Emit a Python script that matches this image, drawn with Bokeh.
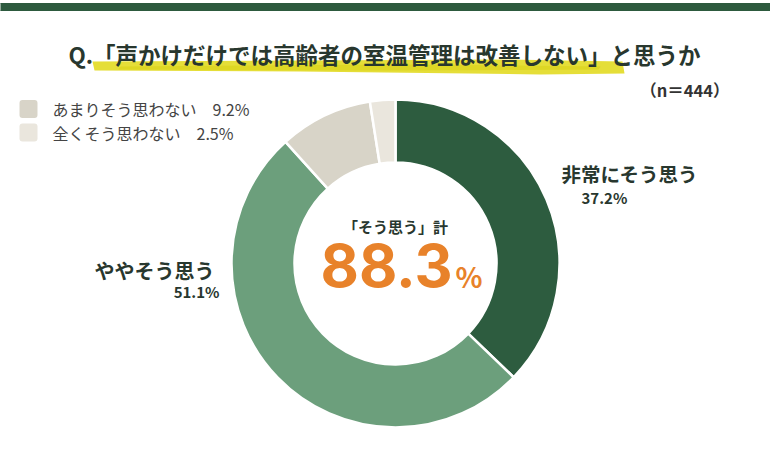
import numpy as np
from bokeh.plotting import figure
from bokeh.models import Range1d
from bokeh.core.properties import value
from bokeh.embed import file_html
from bokeh.resources import INLINE

# data
categories = ['非常にそう思う', 'ややそう思う', 'あまりそう思わない', '全くそう思わない']
shares = [37.2, 51.1, 9.2, 2.5]
colors = ['#2d5c3f', '#6c9f7c', '#d8d4c8', '#eae6dd']
total_agree = '88.3'
n_label = '（n＝444）'
title = 'Q.「声かけだけでは高齢者の室温管理は改善しない」と思うか'
center_label = '「そう思う」計'

FONT = value("Noto Sans CJK JP")
DARK = '#28372e'

# the plot area uses screen-like units: x = pixel, y = 441 - pixel
p = figure(width=770, height=441, x_range=Range1d(0, 770), y_range=Range1d(0, 441),
           toolbar_location=None, output_backend="svg", min_border=0)
p.axis.visible = False
p.grid.visible = False
p.outline_line_color = None
p.background_fill_color = 'white'

def Y(py):
    return 441 - py

# top band
p.quad(left=-5, right=780, top=Y(3), bottom=Y(10), color='#2d5a3e')

# yellow marker stroke under the title
p.patch([92, 300, 500, 622, 624, 540, 300, 94],
        [Y(61), Y(60), Y(59), Y(61), Y(73), Y(74), Y(71), Y(70)],
        color='#e2da22', alpha=0.9, line_color=None)
p.patch([120, 400, 600, 598, 380, 118],
        [Y(66), Y(64), Y(66), Y(69), Y(70), Y(69)],
        color='#d8cf10', alpha=0.5, line_color=None)

p.text(x=[384], y=[Y(53)], text=[title], text_font=FONT, text_font_style='bold',
       text_font_size='22.5px', text_color=DARK, text_align='center', text_baseline='middle')
p.text(x=[729], y=[Y(89)], text=[n_label], text_font=FONT, text_font_style='bold',
       text_font_size='16.5px', text_color='#333333', text_align='right', text_baseline='middle')

# donut
cx, cy = 395, Y(263)
cum = np.concatenate([[0], np.cumsum(shares)])
start = np.pi / 2 - 2 * np.pi * cum[:-1] / 100
end = np.pi / 2 - 2 * np.pi * cum[1:] / 100
p.annular_wedge(x=cx, y=cy, inner_radius=101, outer_radius=164,
                start_angle=start, end_angle=end, direction='clock',
                fill_color=colors, line_color='white', line_width=2.5)

# center text
p.text(x=[cx], y=[Y(226)], text=[center_label], text_font=FONT, text_font_style='bold',
       text_font_size='15px', text_color=DARK, text_align='center', text_baseline='middle')
p.text(x=[452], y=[Y(265)], text=[total_agree], text_font=value("Inter"), text_font_style='bold',
       text_font_size='59px', text_color='#e8822a', text_align='right', text_baseline='middle')
p.text(x=[455], y=[Y(275)], text=['%'], text_font=FONT, text_font_style='bold',
       text_font_size='28px', text_color='#e8822a', text_align='left', text_baseline='middle')

# outside labels for the two big slices
p.text(x=[561], y=[Y(173)], text=[categories[0]], text_font=FONT, text_font_style='bold',
       text_font_size='19.5px', text_color=DARK, text_align='left', text_baseline='middle')
p.text(x=[581], y=[Y(197)], text=['%.1f%%' % shares[0]], text_font=FONT, text_font_style='bold',
       text_font_size='15px', text_color=DARK, text_align='left', text_baseline='middle')
p.text(x=[214], y=[Y(270)], text=[categories[1]], text_font=FONT, text_font_style='bold',
       text_font_size='20px', text_color=DARK, text_align='right', text_baseline='middle')
p.text(x=[219], y=[Y(291)], text=['%.1f%%' % shares[1]], text_font=FONT, text_font_style='bold',
       text_font_size='15px', text_color=DARK, text_align='right', text_baseline='middle')

# legend for the small slices
leg_y = [Y(108.5), Y(132)]
p.rect(x=[28, 28], y=leg_y, width=18, height=18, fill_color=colors[2:], line_color=None,
       border_radius=3)
p.text(x=[52, 52], y=leg_y,
       text=['%s　%.1f%%' % (c, s) for c, s in zip(categories[2:], shares[2:])],
       text_font=FONT, text_font_size='16px', text_color='#444444',
       text_align='left', text_baseline='middle')

open("out.html", "w").write(file_html(p, INLINE))
